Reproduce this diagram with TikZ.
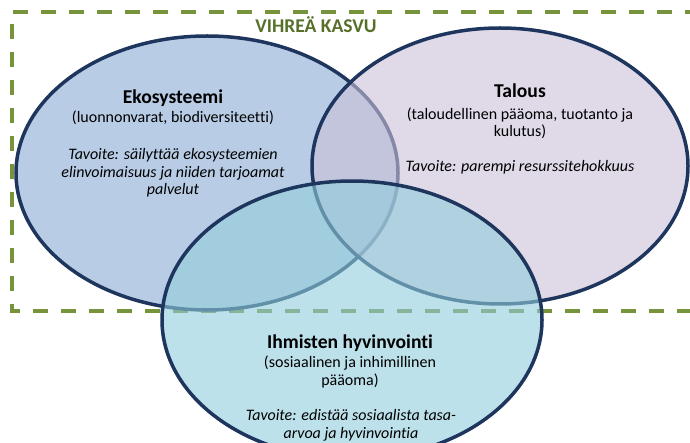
\documentclass[tikz,border=0pt]{standalone}
\usepackage{fontspec}
\setmainfont{Carlito}[Ligatures=NoCommon]
\definecolor{ecofill}{RGB}{138,172,212}
\definecolor{ecofill2}{RGB}{203,193,217}
\definecolor{humfill}{RGB}{146,205,220}
\definecolor{navy}{RGB}{30,54,94}
\definecolor{frame}{RGB}{119,147,60}
\definecolor{frametext}{RGB}{86,112,42}
\begin{document}
\begin{tikzpicture}[x=1pt,y=-1pt,
  venn/.style={draw=navy, line width=3.5pt, fill opacity=0.6},
  title/.style={font=\bfseries\fontsize{19.6}{22}\selectfont, inner sep=0pt, anchor=base},
  body/.style={font=\fontsize{16}{17.5}\selectfont, align=center, inner sep=0pt, anchor=base},
  goal/.style={body, font=\itshape\fontsize{16}{17.5}\selectfont}]
\useasboundingbox (0,0) rectangle (690,443);
\clip (0,0) rectangle (690,443);
\fill[white] (0,0) rectangle (690,443);
% green frame (right side lies outside the picture)
\draw[frame, line width=4pt, dash pattern=on 15pt off 13pt]
  (700,12) -- (12,12) -- (12,311) -- (700,311);
% circles
\path[venn, fill=ecofill]  (207,173) ellipse [x radius=191pt, y radius=137pt];
\path[venn, fill=ecofill2] (500,166) ellipse [x radius=188pt, y radius=138pt];
\path[venn, fill=humfill]  (352,320) ellipse [x radius=190pt, y radius=139pt];
% frame label
\node[title, text=frametext, font=\bfseries\fontsize{19.5}{22}\selectfont] (green) at (316,33) {VIHREÄ KASVU};
% Ekosysteemi (multi-line nodes: base = baseline of last line)
\node[title] (ekoT) at (173,104) {Ekosysteemi};
\node[body] (ekoB) at (173,123) {(luonnonvarat, biodiversiteetti)};
\node[goal] (ekoG) at (173,195) {Tavoite: säilyttää ekosysteemien\\elinvoimaisuus ja niiden tarjoamat\\palvelut};
% Talous
\node[title] (talT) at (520,98) {Talous};
\node[body] (talB) at (520,137) {(taloudellinen pääoma, tuotanto ja\\kulutus)};
\node[goal] (talG) at (520,172) {Tavoite: parempi resurssitehokkuus};
% Ihmisten hyvinvointi
\node[title] (humT) at (350,348) {Ihmisten hyvinvointi};
\node[body] (humB) at (350,385) {(sosiaalinen ja inhimillinen\\pääoma)};
\node[goal] (humG) at (351,438) {Tavoite: edistää sosiaalista tasa-\\arvoa ja hyvinvointia};
\end{tikzpicture}
\end{document}
